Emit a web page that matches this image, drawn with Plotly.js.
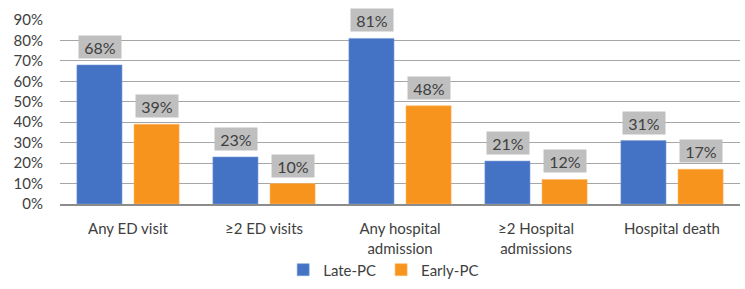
<!DOCTYPE html>
<html><head><meta charset="utf-8">
<script src="https://cdn.plot.ly/plotly-3.0.1.min.js"></script>
<style>html,body{margin:0;padding:0;background:#fff}#c{width:745px;height:289px}</style>
</head><body><div id="c"></div>
<script>
const categories = ["Any ED visit", "≥2 ED visits", "Any hospital<br>admission", "≥2 Hospital<br>admissions", "Hospital death"];
const latePC = [68, 23, 81, 21, 31];
const earlyPC = [39, 10, 48, 12, 17];
const seriesNames = ["Late-PC", "Early-PC"];
const tickVals = [0, 10, 20, 30, 40, 50, 60, 70, 80, 90];

const FONT = "Lato, 'Open Sans', sans-serif";
const blue = "#4472C4", orange = "#F7941D";

const traces = [
  {type: "bar", name: seriesNames[0], x: categories, y: latePC, marker: {color: blue, line: {color: "#7F9FDA", width: 0.6}}, hoverinfo: "none"},
  {type: "bar", name: seriesNames[1], x: categories, y: earlyPC, marker: {color: orange, line: {color: "#FBB86A", width: 0.6}}, hoverinfo: "none"}
];

const annotations = [];
[[latePC, -28.5], [earlyPC, 28.5]].forEach(([vals, shift]) => {
  vals.forEach((v, i) => {
    annotations.push({
      x: categories[i], y: v, xref: "x", yref: "y",
      text: v + "%", showarrow: false, xshift: shift, yshift: 6,
      yanchor: "bottom", xanchor: "center",
      bgcolor: "#BFBFBF", width: 38, height: 18, borderpad: 2,
      font: {family: FONT, size: 16, color: "#404040"}
    });
  });
});

const layout = {
  width: 745, height: 289,
  margin: {l: 60, r: 5, t: 20, b: 85},
  paper_bgcolor: "#fff", plot_bgcolor: "#fff",
  barmode: "group", bargap: 0.16, bargroupgap: 0.21,
  font: {family: FONT, size: 15, color: "#404040"},
  xaxis: {
    type: "category", showgrid: false, showline: true, linecolor: "#8C8C8C", linewidth: 2,
    ticks: "", ticklabelstandoff: 10, tickfont: {family: FONT, size: 15, color: "#404040"}, fixedrange: true
  },
  yaxis: {
    range: [0, 90], tickvals: tickVals, ticktext: tickVals.map(v => v + "%"),
    showgrid: true, gridcolor: "#A6A6A6", gridwidth: 1, zeroline: false,
    showline: false, ticks: "", ticklabelstandoff: 16,
    tickfont: {family: FONT, size: 15, color: "#404040"}, fixedrange: true
  },
  showlegend: true,
  legend: {orientation: "h", x: 0.515, xref: "container", xanchor: "center",
           y: 0.066, yref: "container", yanchor: "middle",
           bgcolor: "rgba(0,0,0,0)",
           font: {family: FONT, size: 15, color: "#404040"}, itemwidth: 30, traceorder: "normal"},
  annotations: annotations
};

Plotly.newPlot("c", traces, layout, {displayModeBar: false, staticPlot: true});
</script></body></html>
